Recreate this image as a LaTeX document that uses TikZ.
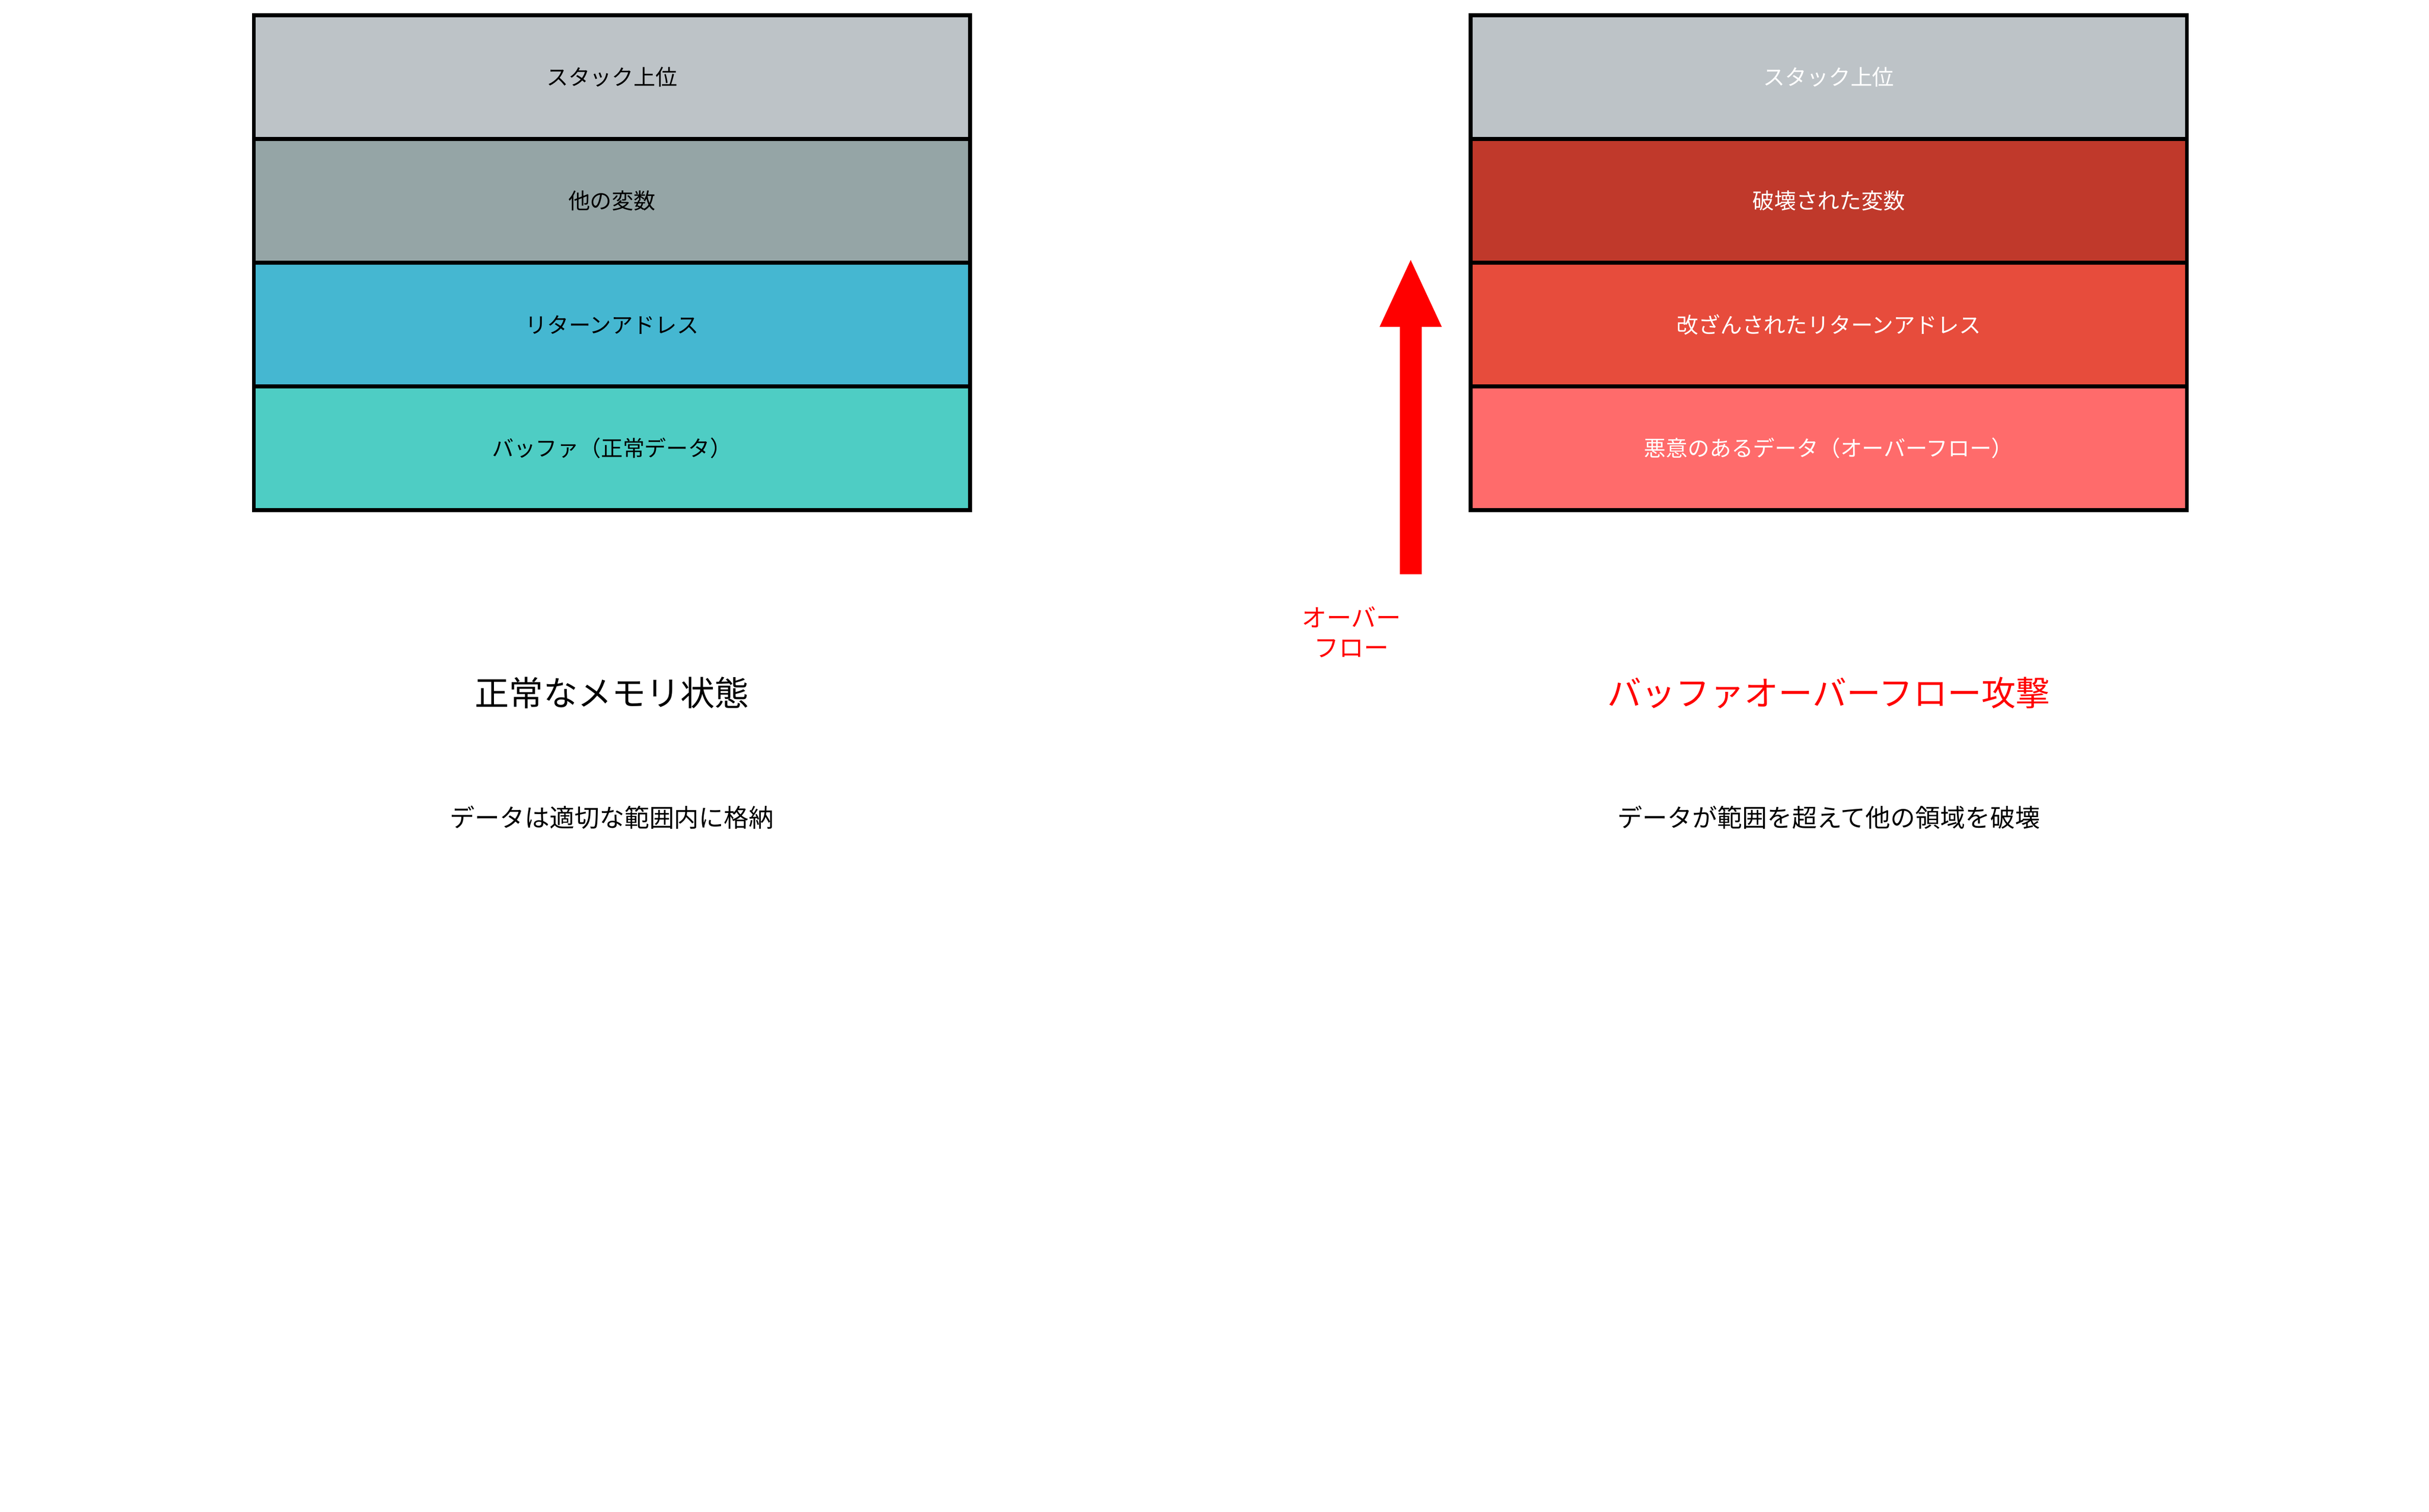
\documentclass[tikz,border=0pt]{standalone}
\usepackage{fontspec}
\setmainfont{Noto Sans CJK JP}
\begin{document}
\begin{tikzpicture}[x=0.5pt,y=-0.5pt,
 cell/.style={draw=black,line width=1.2pt,minimum width=230pt,minimum height=39.7pt,font=\fontsize{7}{8}\selectfont,inner sep=0pt},
 wcell/.style={cell,text=white}]
\useasboundingbox (0,0) rectangle (1560,971);
\definecolor{cg1}{HTML}{BDC3C7}\definecolor{cg2}{HTML}{95A5A6}
\definecolor{cb}{HTML}{45B7D1}\definecolor{ct}{HTML}{4ECDC4}
\definecolor{cr1}{HTML}{C0392B}\definecolor{cr2}{HTML}{E74C3C}\definecolor{cr3}{HTML}{FF6B6B}
\node[cell,fill=cg1] (l1) at (393,49.5) {スタック上位};
\node[cell,fill=cg2] (l2) at (393,129) {他の変数};
\node[cell,fill=cb] (l3) at (393,208.5) {リターンアドレス};
\node[cell,fill=ct] (l4) at (393,288) {バッファ（正常データ）};
\node[wcell,fill=cg1] (r1) at (1174.5,49.5) {スタック上位};
\node[wcell,fill=cr1] (r2) at (1174.5,129) {破壊された変数};
\node[wcell,fill=cr2] (r3) at (1174.5,208.5) {改ざんされたリターンアドレス};
\node[wcell,fill=cr3] (r4) at (1174.5,288) {悪意のあるデータ（オーバーフロー）};
\coordinate (a0) at (906,369);
\coordinate (a1) at (906,208);
\fill[red] (899,369) rectangle (913,208);
\fill[red] (886,210) -- (906,167) -- (926,210) -- cycle;
\node[text=red,align=center,font=\fontsize{8}{9.5}\selectfont] (al) at (868,406) {オーバー\\フロー};
\node[font=\fontsize{11}{13}\selectfont] (t1) at (393,445) {正常なメモリ状態};
\node[text=red,font=\fontsize{11}{13}\selectfont] (t2) at (1174.5,445) {バッファオーバーフロー攻撃};
\node[font=\fontsize{8}{10}\selectfont] (s1) at (393,525) {データは適切な範囲内に格納};
\node[font=\fontsize{8}{10}\selectfont] (s2) at (1174.5,525) {データが範囲を超えて他の領域を破壊};
\end{tikzpicture}
\end{document}
